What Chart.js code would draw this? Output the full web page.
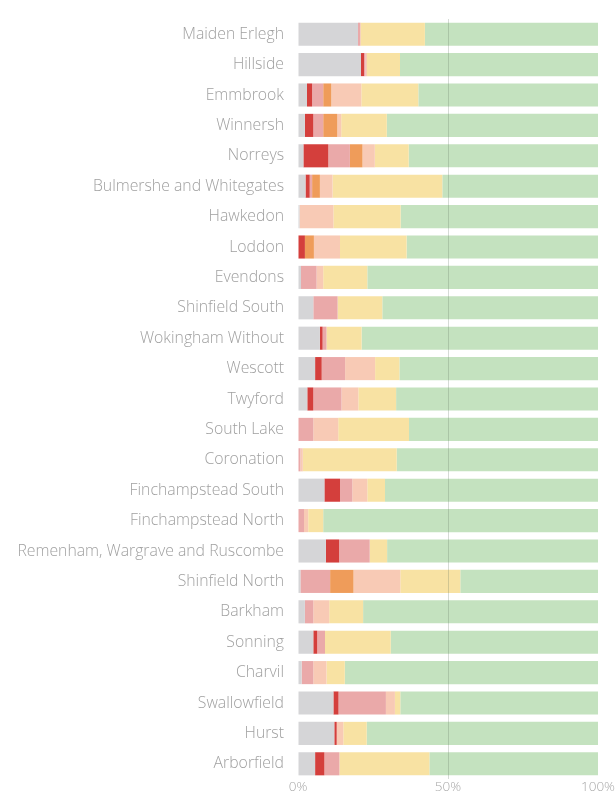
<!DOCTYPE html>
<html>
<head>
<meta charset="utf-8">
<script src="https://cdn.jsdelivr.net/npm/chart.js@4"></script>
<style>
  html, body { margin: 0; padding: 0; background: #fff; }
  canvas { display: block; }
</style>
</head>
<body>
<canvas id="graph" width="615" height="796"></canvas>
<script>
// wards, top to bottom
var wards = ['Maiden Erlegh', 'Hillside', 'Emmbrook', 'Winnersh', 'Norreys', 'Bulmershe and Whitegates',
  'Hawkedon', 'Loddon', 'Evendons', 'Shinfield South', 'Wokingham Without', 'Wescott', 'Twyford',
  'South Lake', 'Coronation', 'Finchampstead South', 'Finchampstead North',
  'Remenham, Wargrave and Ruscombe', 'Shinfield North', 'Barkham', 'Sonning', 'Charvil',
  'Swallowfield', 'Hurst', 'Arborfield'];

// share of each band (%)
var greyVals   = [20, 21, 3, 2.3, 1.8, 2.5, 0.5, 0, 1, 5.1, 7.3, 5.7, 3.1, 0, 0, 8.8, 0, 9.3, 0.8, 2.3, 5.1, 1.2, 11.8, 12.1, 5.7];
var redVals    = [0, 1, 1.7, 2.8, 8.3, 1.4, 0, 2.3, 0, 0, 0.9, 2.2, 2, 0, 0, 5.2, 0, 4.4, 0, 0, 1.3, 0, 1.7, 0.8, 3.1];
var pinkVals   = [0.8, 0.5, 3.7, 3.3, 7.2, 0.8, 0, 0, 5.2, 8.1, 1.3, 7.8, 9.4, 5.1, 0.8, 4.1, 2, 10.2, 9.9, 2.8, 2.6, 3.9, 15.8, 0, 5];
var orangeVals = [0, 0, 2.7, 4.7, 4.2, 2.6, 0, 3, 0, 0, 0, 0, 0, 0, 0, 0, 0, 0, 7.8, 0, 0, 0, 0, 0, 0];
var peachVals  = [0, 0.5, 10, 1.3, 4.1, 4.2, 11.3, 8.7, 2.2, 0, 0, 10, 5.6, 8.3, 0.8, 5, 1.4, 0, 15.6, 5.3, 0, 4.4, 3, 2.2, 0];
var yellowVals = [21.5, 11, 19, 15.2, 11.3, 36.6, 22.4, 22.2, 14.7, 14.9, 11.7, 8.1, 12.6, 23.6, 31.3, 5.9, 5, 5.8, 20, 11.3, 21.9, 6.1, 1.8, 7.8, 30];
var greenVals  = [57.7, 66, 59.9, 70.4, 63.1, 51.9, 65.8, 63.8, 76.9, 71.9, 78.8, 66.2, 67.3, 63, 67.1, 71, 91.6, 70.3, 45.9, 78.3, 69.1, 84.4, 65.9, 77.1, 56.2];

var xTicks = [0, 50, 100];

function band(label, data, color) {
  return {
    label: label,
    data: data,
    backgroundColor: color,
    borderWidth: 0,
    barPercentage: 1,
    categoryPercentage: 0.76
  };
}

var ctx = document.getElementById('graph').getContext('2d');
var chart = new Chart(ctx, {
  type: 'bar',
  data: {
    labels: wards,
    datasets: [
      band('grey', greyVals, '#d5d5d7'),
      band('red', redVals, '#d43f3c'),
      band('pink', pinkVals, '#eaa9a9'),
      band('orange', orangeVals, '#ef9c5a'),
      band('peach', peachVals, '#f8cab5'),
      band('yellow', yellowVals, '#f8e2a3'),
      band('green', greenVals, '#c4e2bf')
    ]
  },
  options: {
    indexAxis: 'y',
    responsive: false,
    maintainAspectRatio: false,
    animation: false,
    layout: { padding: { top: 19, right: 17, left: 0, bottom: 0 } },
    scales: {
      x: {
        stacked: true,
        min: 0,
        max: 100,
        afterBuildTicks: function (scale) {
          scale.ticks = xTicks.map(function (v) { return { value: v }; });
        },
        afterFit: function (scale) {
          scale.height = 17;
          scale.paddingLeft = 0;
          scale.paddingRight = 0;
        },
        grid: {
          z: 1,
          drawTicks: false,
          color: function (c) { return c.tick && c.tick.value === 50 ? 'rgba(90,110,90,0.25)' : 'rgba(0,0,0,0)'; }
        },
        border: { display: false },
        ticks: {
          padding: 0,
          color: '#a8a8a8',
          font: { family: 'Open Sans', size: 13.5, weight: 300 },
          callback: function (v) { return v + '%'; }
        }
      },
      y: {
        stacked: true,
        afterFit: function (scale) {
          scale.width = 298;
          scale.paddingTop = 0;
          scale.paddingBottom = 0;
        },
        grid: { display: false, drawTicks: false },
        border: { display: false },
        ticks: {
          padding: 14,
          color: '#a0a0a0',
          font: { family: 'Open Sans', size: 15.8, weight: 300 }
        }
      }
    },
    plugins: {
      legend: { display: false },
      tooltip: { enabled: false }
    }
  }
});
</script>
</body>
</html>
